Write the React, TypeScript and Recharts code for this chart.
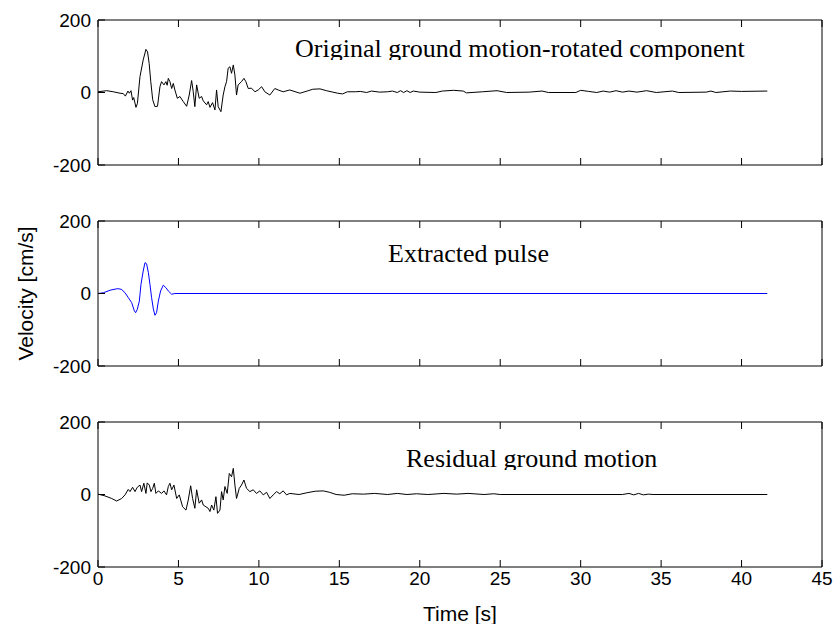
import React from 'react';
import { LineChart, Line, XAxis, YAxis, Label } from 'recharts';

const timeTicks = [0, 5, 10, 15, 20, 25, 30, 35, 40, 45];
const velocityTicks = [-200, 0, 200];

// original ground motion, rotated component (first ~12 s, read densely)
const originalTime = [
  0, 0.54, 0.95, 1.37, 1.57, 1.7, 1.86, 1.95, 2.05, 2.15, 2.22, 2.36, 2.45, 2.61, 2.81, 2.98,
  3.08, 3.18, 3.28, 3.4, 3.54, 3.7, 3.85, 3.95, 4.1, 4.22, 4.3, 4.37, 4.47, 4.58, 4.68, 4.78,
  4.93, 5.09, 5.3, 5.51, 5.67, 5.82, 5.92, 6.02, 6.13, 6.29, 6.44, 6.54, 6.75, 6.85, 6.96,
  7.12, 7.27, 7.37, 7.47, 7.64, 7.78, 7.89, 7.99, 8.09, 8.2, 8.3, 8.41, 8.51, 8.61, 8.71,
  8.92, 9.07, 9.19, 9.34, 9.54, 9.75, 9.96, 10.17, 10.37, 10.68, 10.99, 11.2, 11.51, 11.92,
];
const originalVel = [
  2, 5, 2, -2, -3, -10, 4, -2, 5, -21, -14, -41, -30, 44, 90, 119,
  112, 80, 30, -20, -39, -38, 16, 30, 21, 30, 20, 39, 30, 11, 25, 7,
  -16, -11, -25, -38, -7, 33, 2, -39, 21, -16, -11, -23, -34, -25, -41,
  -28, -48, 7, -39, -53, -7, 16, 30, 67, 71, 53, 76, 48, -7, 21,
  30, 39, 30, 11, 12, 2, 7, 16, 2, -7, 11, 7, 2, 7,
];
const originalTailTime = [
  12.55, 13.0, 13.35, 13.8, 14.2, 14.6, 14.9, 15.2, 15.5, 16.0, 16.3, 16.7, 17.0, 17.5, 18.0,
  18.3, 18.6, 18.8, 19.0, 19.2, 19.4, 19.6, 20.0, 21.0, 21.4, 22.1, 22.7, 22.9, 23.9, 24.8,
  25.4, 26.8, 27.6, 28.0, 29.7, 30.0, 30.5, 31.0, 31.4, 31.8, 32.2, 32.6, 33.0, 33.5, 34.1,
  34.7, 35.7, 36.1, 37.8, 38.1, 38.4, 39.3, 40.0, 41.6,
];
const originalTailVel = [
  -2, 4, 9, 10, 5, 1, -2, -4, 2, 2, 3, 0, 4, 1, 2,
  4, 0, 5, 0, 5, 0, 4, 1, 0, 4, 6, 4, -1, 2, 5,
  0, 1, 4, 0, 0, 6, 3, 0, 4, 1, 5, 1, 4, 1, 5,
  0, 4, 0, 1, 4, 0, 4, 3, 4,
];

// extracted pulse
const pulseTime = [
  0, 0.33, 0.75, 1.16, 1.3, 1.47, 1.68, 1.88, 2.09, 2.26, 2.34, 2.44, 2.57, 2.67, 2.81, 2.92,
  3.02, 3.13, 3.23, 3.33, 3.44, 3.54, 3.64, 3.75, 3.89, 4.06, 4.22, 4.37, 4.58, 4.78, 41.6,
];
const pulseVel = [
  0, 2, 9, 13, 13, 11, 2, -11, -25, -48, -53, -44, -21, 25, 62, 85,
  82, 58, 25, -11, -43, -60, -53, -21, 7, 23, 16, 7, -2, 0, 0,
];

// residual ground motion
const residualTime = [
  0, 0.44, 0.85, 1.16, 1.47, 1.68, 1.88, 1.99, 2.15, 2.3, 2.44, 2.61, 2.71, 2.85, 2.98, 3.06,
  3.19, 3.29, 3.4, 3.5, 3.6, 3.75, 3.95, 4.1, 4.26, 4.37, 4.47, 4.58, 4.72, 4.89, 5.05, 5.26,
  5.47, 5.61, 5.76, 5.88, 6.02, 6.13, 6.29, 6.44, 6.54, 6.71, 6.85, 6.96, 7.06, 7.2, 7.33,
  7.43, 7.58, 7.68, 7.78, 7.89, 8.03, 8.16, 8.3, 8.41, 8.51, 8.61, 8.78, 8.92, 9.07, 9.23,
  9.44, 9.65, 9.85, 10.06, 10.27, 10.48, 10.68, 10.89, 11.1, 11.3, 11.51, 11.72, 11.92,
];
const residualVel = [
  1, -4, -11, -18, -11, -1, 14, 8, 20, 8, 20, 26, 8, 31, 3, 32,
  26, 8, 17, 31, 3, 10, 3, 10, -1, 22, 31, 13, 26, -11, -1, -34,
  -43, -15, 24, -11, -38, 13, -24, -15, -29, -34, -38, -47, -29, -43, -6,
  -52, -43, 8, -15, 22, 3, 58, 49, 72, 26, -11, 17, 26, 40, 17,
  8, 13, 3, 10, -1, 6, -11, -1, 8, 2, 10, -1, 3,
];
const residualTailTime = [
  12.5, 13.0, 13.5, 14.0, 14.4, 14.8, 15.3, 15.8, 16.5, 17.2, 18.0, 18.6, 19.2, 19.8, 20.5,
  21.5, 22.3, 23.0, 24.0, 24.6, 25.0, 32.6, 33.0, 33.3, 33.6, 33.9, 34.2, 34.5, 41.6,
];
const residualTailVel = [
  0, 5, 9, 10, 6, 0, -2, 2, 1, 3, 0, 3, 0, 2, 0,
  3, 1, 3, 0, 2, 0, 0, 3, -1, 3, -1, 1, 0, 0,
];

const sans = '"Liberation Sans", Arial, Helvetica, sans-serif';
const serif = '"Liberation Serif", "Times New Roman", serif';

const W = 835;
const TOP = 20;
const PLOT_H = 145;
const TICK = 7;

function rows(t: number[], v: number[]) {
  return t.map((x, i) => ({ t: x, v: v[i] }));
}

// matlab style ticks: short marks pointing into the box, labels outside
function BottomTick(props: any) {
  const { x, y, payload, showLabel } = props;
  return (
    <g>
      <line x1={x} x2={x} y1={y} y2={y - TICK} stroke="#000" />
      {showLabel && (
        <text x={x} y={y + 5} dy="0.71em" textAnchor="middle" fontSize={19} fontFamily={sans} fill="#000">
          {payload.value}
        </text>
      )}
    </g>
  );
}

function TopTick(props: any) {
  const { x, y } = props;
  return <line x1={x} x2={x} y1={y} y2={y + TICK} stroke="#000" />;
}

function LeftTick(props: any) {
  const { x, y, payload } = props;
  return (
    <g>
      <line x1={x} x2={x + TICK} y1={y} y2={y} stroke="#000" />
      <text x={x - 7} y={y} dy="0.35em" textAnchor="end" fontSize={19} fontFamily={sans} fill="#000">
        {payload.value}
      </text>
    </g>
  );
}

function RightTick(props: any) {
  const { x, y } = props;
  return <line x1={x} x2={x - TICK} y1={y} y2={y} stroke="#000" />;
}

type PanelProps = {
  id: string;
  data: { t: number; v: number }[];
  color: string;
  top: number;
  height: number;
  axisHeight: number;
  title: string;
  titleX: number;
  titleY: number;
  showTime?: boolean;
  showYLabel?: boolean;
};

function Panel({ id, data, color, top, height, axisHeight, title, titleX, titleY, showTime, showYLabel }: PanelProps) {
  const frame = { stroke: '#000', strokeWidth: 1 };
  return (
    <div style={{ position: 'absolute', left: 0, top }}>
      <LineChart width={W} height={height} data={data} margin={{ top: TOP - 1, right: 12, bottom: 0, left: 0 }}>
        <XAxis
          xAxisId="b"
          dataKey="t"
          type="number"
          domain={[0, 45]}
          ticks={timeTicks}
          interval={0}
          height={axisHeight}
          tickSize={0}
          tickMargin={0}
          tickLine={false}
          tick={(p: any) => <BottomTick {...p} showLabel={showTime} />}
          axisLine={frame}
        >
          {showTime && (
            <Label value="Time [s]" position="insideBottom" offset={3} style={{ fill: '#000', fontSize: 21, fontFamily: sans }} />
          )}
        </XAxis>
        <XAxis
          xAxisId="t"
          orientation="top"
          dataKey="t"
          type="number"
          domain={[0, 45]}
          ticks={timeTicks}
          interval={0}
          height={1}
          tickSize={0}
          tickMargin={0}
          tickLine={false}
          tick={(p: any) => <TopTick {...p} />}
          axisLine={frame}
        />
        <YAxis
          yAxisId="l"
          type="number"
          domain={[-200, 200]}
          ticks={velocityTicks}
          interval={0}
          width={98}
          tickSize={0}
          tickMargin={0}
          tickLine={false}
          tick={(p: any) => <LeftTick {...p} />}
          axisLine={frame}
        />
        <YAxis
          yAxisId="r"
          orientation="right"
          type="number"
          domain={[-200, 200]}
          ticks={velocityTicks}
          interval={0}
          width={1}
          tickSize={0}
          tickMargin={0}
          tickLine={false}
          tick={(p: any) => <RightTick {...p} />}
          axisLine={frame}
        />
        <Line
          xAxisId="b"
          yAxisId="l"
          type="linear"
          dataKey="v"
          stroke={color}
          strokeWidth={1}
          dot={false}
          activeDot={false}
          isAnimationActive={false}
        />
        <defs>
          <clipPath id={id}>
            <rect x={0} y={0} width={W} height={titleY + 3} />
          </clipPath>
        </defs>
        <text x={titleX} y={titleY} clipPath={`url(#${id})`} fontFamily={serif} fontSize={26} fill="#000">
          {title}
        </text>
        {showYLabel && (
          <text
            x={25}
            y={TOP + PLOT_H / 2}
            transform={`rotate(-90 25 ${TOP + PLOT_H / 2})`}
            textAnchor="middle"
            dominantBaseline="central"
            fontFamily={sans}
            fontSize={21}
            fill="#000"
          >
            Velocity [cm/s]
          </text>
        )}
      </LineChart>
    </div>
  );
}

export default function App() {
  const original = rows([...originalTime, ...originalTailTime], [...originalVel, ...originalTailVel]);
  const pulse = rows(pulseTime, pulseVel);
  const residual = rows([...residualTime, ...residualTailTime], [...residualVel, ...residualTailVel]);

  return (
    <div style={{ position: 'absolute', left: 0, top: 0, width: W, height: 624, background: '#fff', overflow: 'hidden' }}>
      <Panel
        id="clipA"
        data={original}
        color="#000"
        top={0}
        height={200}
        axisHeight={35}
        title="Original ground motion-rotated component"
        titleX={295}
        titleY={57}
      />
      <Panel
        id="clipB"
        data={pulse}
        color="#0000ff"
        top={201}
        height={200}
        axisHeight={35}
        title="Extracted pulse"
        titleX={388}
        titleY={61}
        showYLabel
      />
      <Panel
        id="clipC"
        data={residual}
        color="#000"
        top={402}
        height={222}
        axisHeight={57}
        title="Residual ground motion"
        titleX={406}
        titleY={65}
        showTime
      />
    </div>
  );
}
